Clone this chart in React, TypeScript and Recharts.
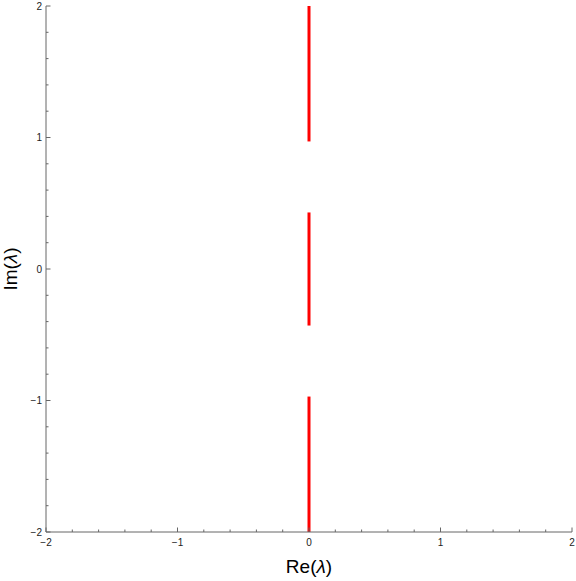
import { LineChart, Line, XAxis, YAxis } from "recharts";

// eigenvalue branches along the imaginary axis (Re, Im)
const upperBranch = [
  { re: 0, im: 0.97 },
  { re: 0, im: 2 },
];
const middleBranch = [
  { re: 0, im: -0.43 },
  { re: 0, im: 0.43 },
];
const lowerBranch = [
  { re: 0, im: -2 },
  { re: 0, im: -0.97 },
];

const axisTicks = [-2, -1.8, -1.6, -1.4, -1.2, -1, -0.8, -0.6, -0.4, -0.2, 0, 0.2, 0.4, 0.6, 0.8, 1, 1.2, 1.4, 1.6, 1.8, 2];
const labelTicks = [-2, -1, 0, 1, 2];

const FRAME = "#666";
const FONT = "'Liberation Sans', Arial, sans-serif";

const isMajor = (v: number) => labelTicks.includes(v);
const fmt = (v: number) => (v < 0 ? `\u2212${Math.abs(v)}` : `${v}`);

function makeTick(side: "bottom" | "top" | "left" | "right") {
  return (props: any) => {
    const { x, y, payload } = props;
    const v = payload.value as number;
    const len = isMajor(v) ? 4.5 : 2.5;
    if (side === "bottom") {
      return (
        <g>
          <line x1={x} y1={y} x2={x} y2={y - len} stroke={FRAME} />
          {isMajor(v) && (
            <text x={x} y={y + 14} textAnchor="middle" fontSize={10} fontFamily={FONT} fill="#222">
              {fmt(v)}
            </text>
          )}
        </g>
      );
    }
    if (side === "top") {
      return <line x1={x} y1={y} x2={x} y2={y + len} stroke={FRAME} />;
    }
    if (side === "left") {
      return (
        <g>
          <line x1={x} y1={y} x2={x + len} y2={y} stroke={FRAME} />
          {isMajor(v) && (
            <text x={x - 4} y={y + 3.5} textAnchor="end" fontSize={10} fontFamily={FONT} fill="#222">
              {fmt(v)}
            </text>
          )}
        </g>
      );
    }
    return <line x1={x} y1={y} x2={x - len} y2={y} stroke={FRAME} />;
  };
}

export default function App() {
  const branches = [upperBranch, middleBranch, lowerBranch];
  return (
    <div style={{ position: "absolute", left: 0, top: 0, background: "#fff" }}>
      <LineChart width={576} height={581} margin={{ top: 6, right: 4, bottom: 0, left: 0 }}>
        <XAxis
          xAxisId="b"
          type="number"
          dataKey="re"
          domain={[-2, 2]}
          ticks={axisTicks}
          interval={0}
          height={49}
          tickSize={0}
          tickMargin={0}
          tickLine={false}
          axisLine={{ stroke: FRAME }}
          tick={makeTick("bottom")}
          allowDataOverflow
          label={{
            value: "Re(λ)",
            position: "insideBottom",
            offset: 7,
            content: ({ viewBox }: any) => (
              <text
                x={viewBox.x + viewBox.width / 2}
                y={573}
                textAnchor="middle"
                fontSize={19}
                fontFamily={FONT}
                fill="#000"
              >
                Re(<tspan fontStyle="italic">λ</tspan>)
              </text>
            ),
          }}
        />
        <XAxis
          xAxisId="t"
          orientation="top"
          type="number"
          domain={[-2, 2]}
          ticks={axisTicks}
          interval={0}
          height={0}
          tickSize={0}
          tickMargin={0}
          tickLine={false}
          axisLine={{ stroke: FRAME }}
          tick={makeTick("top")}
        />
        <YAxis
          yAxisId="l"
          type="number"
          dataKey="im"
          domain={[-2, 2]}
          ticks={axisTicks}
          interval={0}
          width={46}
          tickSize={0}
          tickMargin={0}
          tickLine={false}
          axisLine={{ stroke: FRAME }}
          tick={makeTick("left")}
          allowDataOverflow
          label={{
            value: "Im(λ)",
            content: ({ viewBox }: any) => {
              const cy = viewBox.y + viewBox.height / 2;
              return (
                <text
                  x={17}
                  y={cy}
                  textAnchor="middle"
                  fontSize={19}
                  fontFamily={FONT}
                  fill="#000"
                  transform={`rotate(-90, 17, ${cy})`}
                >
                  Im(<tspan fontStyle="italic">λ</tspan>)
                </text>
              );
            },
          }}
        />
        <YAxis
          yAxisId="r"
          orientation="right"
          type="number"
          domain={[-2, 2]}
          ticks={axisTicks}
          interval={0}
          width={0}
          tickSize={0}
          tickMargin={0}
          tickLine={false}
          axisLine={{ stroke: FRAME }}
          tick={makeTick("right")}
        />
        {branches.map((data, i) => (
          <Line
            key={i}
            xAxisId="b"
            yAxisId="l"
            data={data}
            dataKey="im"
            type="linear"
            stroke="#ff0000"
            strokeWidth={3}
            dot={false}
            activeDot={false}
            isAnimationActive={false}
          />
        ))}
      </LineChart>
    </div>
  );
}
